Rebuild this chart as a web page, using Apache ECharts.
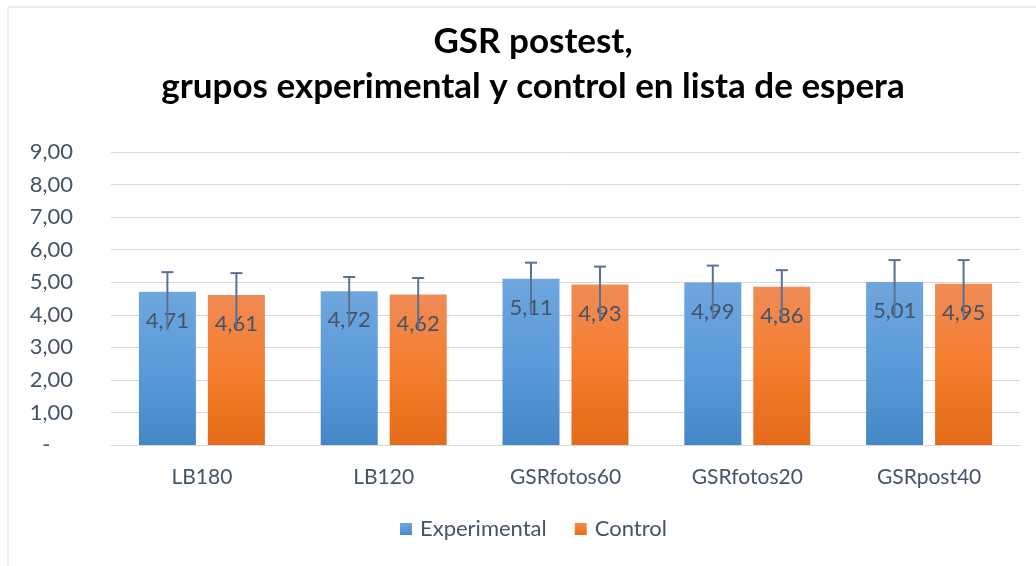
<!DOCTYPE html>
<html>
<head>
<meta charset="utf-8">
<script src="https://cdn.jsdelivr.net/npm/echarts@6/dist/echarts.min.js"></script>
<style>html,body{margin:0;padding:0;background:#fff}#c{width:1036px;height:566px}</style>
</head>
<body>
<div id="c"></div>
<script>
const categories = ['LB180', 'LB120', 'GSRfotos60', 'GSRfotos20', 'GSRpost40'];
const seriesNames = ['Experimental', 'Control'];
const experimental = [4.71, 4.72, 5.11, 4.99, 5.01];
const control = [4.61, 4.62, 4.93, 4.86, 4.95];
// upper error (to cap) and lower extent of the error line
const expErrUp = [0.60, 0.44, 0.49, 0.52, 0.67];
const ctrlErrUp = [0.67, 0.51, 0.55, 0.51, 0.73];
const expErrDown = [1.18, 1.10, 1.12, 1.10, 1.08];
const ctrlErrDown = [1.02, 1.05, 1.08, 1.05, 1.05];
const yTicks = [0, 1, 2, 3, 4, 5, 6, 7, 8, 9];

const FONT = 'Lato';
const fmt = v => v.toFixed(2).replace('.', ',');

function grad(top, mid, bot) {
  return new echarts.graphic.LinearGradient(0, 0, 0, 1, [
    {offset: 0, color: top}, {offset: 0.5, color: mid}, {offset: 1, color: bot}
  ]);
}

const BAR_W = 57, GAP = 12;
function errSeries(vals, up, down, sign) {
  return {
    type: 'custom',
    z: 5,
    silent: true,
    data: vals.map((v, i) => [i, v + up[i], v - down[i]]),
    renderItem: function (params, api) {
      const hi = api.coord([api.value(0), api.value(1)]);
      const lo = api.coord([api.value(0), api.value(2)]);
      const x = hi[0] + sign * (BAR_W + GAP) / 2;
      const style = {stroke: '#5B7193', lineWidth: 2};
      return {
        type: 'group',
        children: [
          {type: 'line', shape: {x1: x, y1: hi[1], x2: x, y2: lo[1]}, style: style},
          {type: 'line', shape: {x1: x - 6, y1: hi[1], x2: x + 6, y2: hi[1]}, style: style}
        ]
      };
    }
  };
}

const chart = echarts.init(document.getElementById('c'));
chart.setOption({
  animation: false,
  backgroundColor: '#fff',
  graphic: [{
    type: 'rect', shape: {x: 8, y: 7, width: 1100, height: 600},
    style: {fill: 'none', stroke: '#D9D9D9', lineWidth: 1}, z: -1
  }],
  title: {
    text: 'GSR postest,\ngrupos experimental y control en lista de espera',
    left: 528, textAlign: 'center', top: 14,
    textStyle: {fontFamily: FONT, fontWeight: 'bold', fontSize: 35, color: '#000', lineHeight: 45}
  },
  legend: {
    data: seriesNames,
    left: 395, top: 513,
    itemWidth: 12, itemHeight: 12, itemGap: 28,
    icon: 'rect',
    textStyle: {fontFamily: FONT, fontSize: 22, color: '#44546A', padding: [0, 0, 0, 3]}
  },
  grid: {left: 111, right: 16, top: 152, bottom: 121, containLabel: false},
  xAxis: {
    type: 'category', data: categories,
    axisLine: {lineStyle: {color: '#D9D9D9', width: 1}},
    axisTick: {show: false},
    axisLabel: {fontFamily: FONT, fontSize: 21, color: '#44546A', margin: 22}
  },
  yAxis: {
    type: 'value', min: yTicks[0], max: yTicks[yTicks.length - 1], interval: 1,
    axisLine: {show: false}, axisTick: {show: false},
    splitLine: {lineStyle: {color: '#D9D9D9', width: 1}},
    axisLabel: {
      fontFamily: FONT, fontSize: 22, color: '#44546A', margin: 38,
      formatter: v => v === 0 ? '-    ' : fmt(v)
    }
  },
  series: [
    {
      name: seriesNames[0], type: 'bar', data: experimental,
      barWidth: BAR_W, barGap: (GAP / BAR_W * 100).toFixed(0) + '%',
      itemStyle: {color: grad('#6FA6DD', '#5B9BD9', '#4587C6')},
      label: {show: true, position: 'insideTop', distance: 18, formatter: p => fmt(p.value),
        fontFamily: FONT, fontSize: 22, color: '#44546A'}
    },
    {
      name: seriesNames[1], type: 'bar', data: control,
      barWidth: BAR_W,
      itemStyle: {color: grad('#F08B57', '#F47E2D', '#E36B1A')},
      label: {show: true, position: 'insideTop', distance: 18, formatter: p => fmt(p.value),
        fontFamily: FONT, fontSize: 22, color: '#44546A'}
    },
    errSeries(experimental, expErrUp, expErrDown, -1),
    errSeries(control, ctrlErrUp, ctrlErrDown, 1)
  ]
});
</script>
</body>
</html>
